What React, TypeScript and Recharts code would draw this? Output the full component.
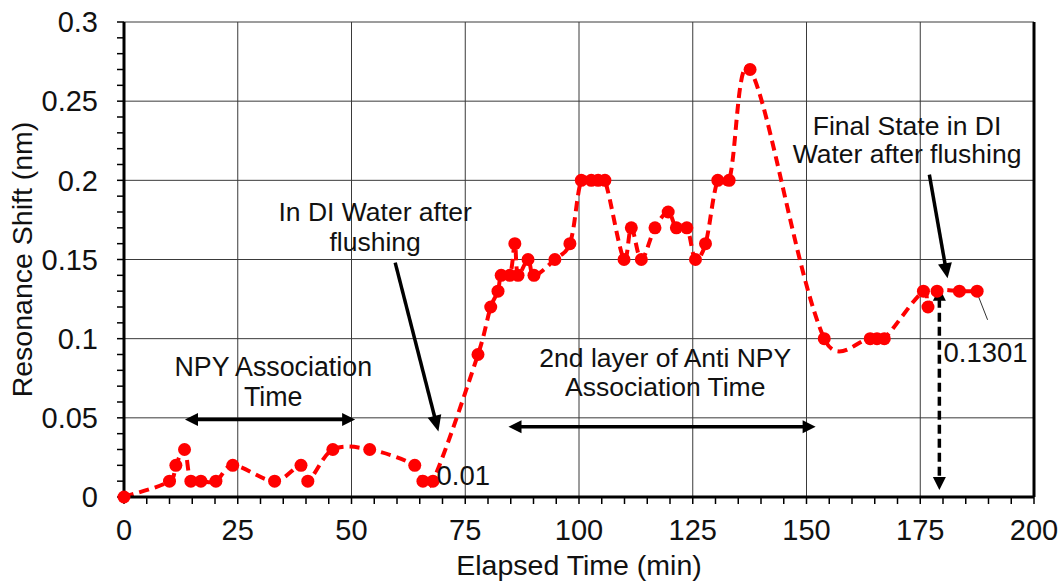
import {
  LineChart,
  Line,
  XAxis,
  YAxis,
  CartesianGrid,
  ReferenceLine,
  ReferenceDot,
  Label,
} from "recharts";

const FONT = '"Liberation Sans", Arial, sans-serif';

// elapsed time (min) and resonance shift (nm)
const elapsedTime = [
  0, 10, 11.4, 13.3, 14.7, 16.9, 20.2, 23.9, 33.1, 38.9,
  40.4, 45.9, 54, 63.9, 65.7, 67.9, 77.8, 80.6, 82.2, 82.9,
  84.8, 85.9, 86.6, 88.8, 90.1, 94.7, 98, 100.5, 102.7, 104.2,
  105.7, 109.9, 111.5, 113.7, 116.7, 119.6, 121.4, 123.7, 125.6, 127.8,
  130.5, 133, 137.6, 153.9, 164, 165.5, 167.1, 175.7, 176.7,
  178.7, 183.6, 187.5,
];
const resonanceShift = [
  0, 0.01, 0.02, 0.03, 0.01, 0.01, 0.01, 0.02, 0.01, 0.02,
  0.01, 0.03, 0.03, 0.02, 0.01, 0.01, 0.09, 0.12, 0.13, 0.14,
  0.14, 0.16, 0.14, 0.15, 0.14, 0.15, 0.16, 0.2, 0.2, 0.2,
  0.2, 0.15, 0.17, 0.15, 0.17, 0.18, 0.17, 0.17, 0.15, 0.16,
  0.2, 0.2, 0.27, 0.1, 0.1, 0.1, 0.1, 0.13, 0.12,
  0.13, 0.13, 0.13,
];

const xMajor = [0, 25, 50, 75, 100, 125, 150, 175, 200];
const xMinor = [
  0, 5, 10, 15, 20, 25, 30, 35, 40, 45, 50, 55, 60, 65, 70, 75, 80, 85, 90, 95, 100,
  105, 110, 115, 120, 125, 130, 135, 140, 145, 150, 155, 160, 165, 170, 175, 180, 185,
  190, 195, 200,
];
const yMajor = [0, 0.05, 0.1, 0.15, 0.2, 0.25, 0.3];
const yMinor = [
  0, 0.01, 0.02, 0.03, 0.04, 0.05, 0.06, 0.07, 0.08, 0.09, 0.1, 0.11, 0.12, 0.13, 0.14,
  0.15, 0.16, 0.17, 0.18, 0.19, 0.2, 0.21, 0.22, 0.23, 0.24, 0.25, 0.26, 0.27, 0.28,
  0.29, 0.3,
];

const data = elapsedTime.map((t, i) => ({ t, shift: resonanceShift[i] }));

// smoothed line like Excel's: bezier through every point, tangents damped by chord length
const smoothCurve = (context: any) => {
  let pts: number[][] = [];
  const dist = (a: number[], b: number[]) => Math.hypot(b[0] - a[0], b[1] - a[1]);
  return {
    areaStart() {},
    areaEnd() {},
    lineStart() {
      pts = [];
    },
    point(x: number, y: number) {
      pts.push([+x, +y]);
    },
    lineEnd() {
      const n = pts.length;
      if (!n) return;
      context.moveTo(pts[0][0], pts[0][1]);
      for (let i = 0; i < n - 1; i++) {
        const p0 = pts[i - 1] || pts[i];
        const p1 = pts[i];
        const p2 = pts[i + 1];
        const p3 = pts[i + 2] || p2;
        const d01 = dist(p0, p1);
        const d12 = dist(p1, p2);
        const d23 = dist(p2, p3);
        const s1 = d01 + d12 > 0 ? 0.5 * (1 + (2 * d12) / (d01 + d12)) : 1;
        const s2 = d12 + d23 > 0 ? 0.5 * (1 + (2 * d12) / (d12 + d23)) : 1;
        context.bezierCurveTo(
          p1[0] + ((p2[0] - p0[0]) / 6) * s1,
          p1[1] + ((p2[1] - p0[1]) / 6) * s1,
          p2[0] - ((p3[0] - p1[0]) / 6) * s2,
          p2[1] - ((p3[1] - p1[1]) / 6) * s2,
          p2[0],
          p2[1]
        );
      }
    },
  };
};

const isMajor = (v: number, list: number[]) => list.some((m) => Math.abs(m - v) < 1e-9);

const head = (tx: number, ty: number, ux: number, uy: number, len: number, half: number) => {
  const bx = tx - ux * len;
  const by = ty - uy * len;
  return `${tx},${ty} ${bx - uy * half},${by + ux * half} ${bx + uy * half},${by - ux * half}`;
};

const arrow =
  (both: boolean, dashed: boolean, len = 14, half = 7, width = 3.5) =>
  (p: any) => {
    const { x1, y1, x2, y2 } = p;
    const d = Math.hypot(x2 - x1, y2 - y1) || 1;
    const ux = (x2 - x1) / d;
    const uy = (y2 - y1) / d;
    const sx = both ? x1 + ux * (len - 2) : x1;
    const sy = both ? y1 + uy * (len - 2) : y1;
    return (
      <g>
        <line
          x1={sx}
          y1={sy}
          x2={x2 - ux * (len - 2)}
          y2={y2 - uy * (len - 2)}
          stroke="#000"
          strokeWidth={width}
          strokeDasharray={dashed ? "9 5" : undefined}
        />
        <polygon points={head(x2, y2, ux, uy, len, half)} fill="#000" />
        {both && <polygon points={head(x1, y1, -ux, -uy, len, half)} fill="#000" />}
      </g>
    );
  };

const textAt =
  (lines: string[], anchor: "middle" | "start" = "middle", size = 26.5, gap = 29) =>
  (p: any) => (
    <text
      x={p.cx}
      y={p.cy}
      textAnchor={anchor}
      fontFamily={FONT}
      fontSize={size}
      fill="#111"
    >
      {lines.map((s, i) => (
        <tspan key={i} x={p.cx} dy={i === 0 ? "0.36em" : gap}>
          {s}
        </tspan>
      ))}
    </text>
  );

const yTitle = (props: any) => {
  const vb = props.viewBox;
  const cx = vb.x + 22;
  const cy = vb.y + vb.height / 2;
  return (
    <text
      x={cx}
      y={cy}
      transform={`rotate(-90 ${cx} ${cy})`}
      textAnchor="middle"
      dominantBaseline="central"
      fontFamily={FONT}
      fontSize={28.5}
      fill="#111"
    >
      Resonance Shift (nm)
    </text>
  );
};

const xTitle = (props: any) => {
  const vb = props.viewBox;
  return (
    <text
      x={vb.x + vb.width / 2}
      y={vb.y + 68}
      textAnchor="middle"
      dominantBaseline="central"
      fontFamily={FONT}
      fontSize={28.5}
      fill="#111"
    >
      Elapsed Time (min)
    </text>
  );
};

const tickStyle = { fontSize: 29, fill: "#111", fontFamily: FONT };

export default function App() {
  return (
    <div style={{ position: "absolute", left: 0, top: 0, background: "#fff" }}>
      <LineChart
        width={1060}
        height={582}
        data={data}
        margin={{ top: 22, right: 26, left: 0, bottom: 0 }}
        style={{ fontFamily: FONT }}
      >
        <CartesianGrid
          horizontalValues={yMajor}
          verticalValues={xMajor}
          stroke="#3a3a3a"
          strokeWidth={1}
        />
        <XAxis
          type="number"
          dataKey="t"
          domain={[0, 200]}
          ticks={xMinor}
          interval={0}
          tickFormatter={(v: number) => (isMajor(v, xMajor) ? String(v) : "")}
          tick={tickStyle}
          tickSize={7}
          tickMargin={15}
          height={85}
          axisLine={{ stroke: "#000", strokeWidth: 3 }}
          tickLine={{ stroke: "#000", strokeWidth: 1.5 }}
          label={<Label content={xTitle} />}
        />
        <YAxis
          type="number"
          domain={[0, 0.3]}
          ticks={yMinor}
          interval={0}
          tickFormatter={(v: number) =>
            isMajor(v, yMajor) ? String(Math.round(v * 100) / 100) : ""
          }
          tick={tickStyle}
          tickSize={7}
          tickMargin={19}
          width={124}
          axisLine={{ stroke: "#000", strokeWidth: 3 }}
          tickLine={{ stroke: "#000", strokeWidth: 1.5 }}
          label={<Label content={yTitle} />}
        />
        <ReferenceLine x={200} stroke="#000" strokeWidth={3} />

        <Line
          dataKey="shift"
          type={smoothCurve as any}
          stroke="#ff0000"
          strokeWidth={4}
          strokeDasharray="10 6"
          dot={{ r: 6.5, fill: "#ff0000", stroke: "none", strokeDasharray: "0" }}
          activeDot={false}
          isAnimationActive={false}
        />

        {/* NPY association */}
        <ReferenceDot x={32.8} y={0.0824} r={0} ifOverflow="visible" shape={textAt(["NPY Association", "Time"], "middle", 26.8, 30)} />
        <ReferenceLine segment={[{ x: 13.4, y: 0.049 }, { x: 50.8, y: 0.049 }]} ifOverflow="visible" shape={arrow(true, false, 13, 6.5, 3.5)} />

        {/* first flush */}
        <ReferenceDot x={55.2} y={0.1803} r={0} ifOverflow="visible" shape={textAt(["In DI Water after", "flushing"], "middle", 26.5, 30)} />
        <ReferenceLine segment={[{ x: 59.6, y: 0.148 }, { x: 69.1, y: 0.0413 }]} ifOverflow="visible" shape={arrow(false, false, 16, 7, 3.5)} />
        <ReferenceDot x={68.7} y={0.0139} r={0} ifOverflow="visible" shape={textAt(["0.01"], "start", 27.5)} />

        {/* second layer */}
        <ReferenceDot x={118.96} y={0.0879} r={0} ifOverflow="visible" shape={textAt(["2nd layer of Anti NPY", "Association Time"], "middle", 26.5, 29)} />
        <ReferenceLine segment={[{ x: 84.5, y: 0.0444 }, { x: 152, y: 0.0444 }]} ifOverflow="visible" shape={arrow(true, false, 13, 6.5, 3.5)} />

        {/* final state */}
        <ReferenceDot x={172.1} y={0.2345} r={0} ifOverflow="visible" shape={textAt(["Final State in DI", "Water after flushing"], "middle", 26.5, 28)} />
        <ReferenceLine segment={[{ x: 177, y: 0.2036 }, { x: 181, y: 0.1382 }]} ifOverflow="visible" shape={arrow(false, false, 15, 7, 3.5)} />
        <ReferenceLine segment={[{ x: 179.2, y: 0.1321 }, { x: 179.2, y: 0.0044 }]} ifOverflow="visible" shape={arrow(true, true, 13, 6.5, 3.5)} />
        <ReferenceDot x={180.1} y={0.0918} r={0} ifOverflow="visible" shape={textAt(["0.1301"], "start", 27.5)} />
        <ReferenceLine segment={[{ x: 187.5, y: 0.1288 }, { x: 189.8, y: 0.1119 }]} ifOverflow="visible" stroke="#333" strokeWidth={1} />
      </LineChart>
    </div>
  );
}
